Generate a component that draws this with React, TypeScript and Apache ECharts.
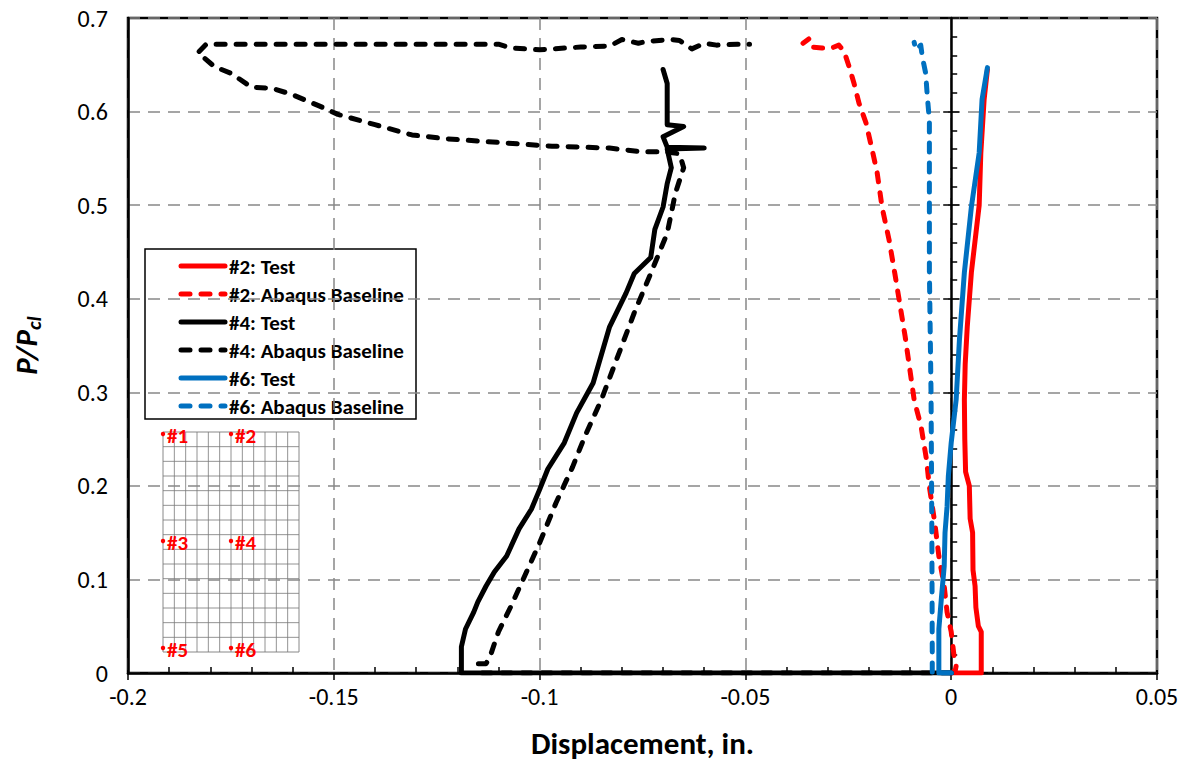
import React, { useEffect, useRef } from "react";
import * as echarts from "echarts";

// ---------- data (displacement in., P/Pcl) ----------
const test2: number[][] = [
  [0, 0], [0.0073, 0], [0.0073, 0.044], [0.0066, 0.05], [0.006, 0.07], [0.0058, 0.093],
  [0.0053, 0.11], [0.0052, 0.15], [0.0046, 0.165], [0.0044, 0.2], [0.0035, 0.215],
  [0.0033, 0.25], [0.0032, 0.292], [0.0034, 0.33], [0.0039, 0.37], [0.0049, 0.428],
  [0.0068, 0.5], [0.0072, 0.556], [0.008, 0.613], [0.0088, 0.645],
];
const abaqus2: number[][] = [
  [0, 0], [0.001, 0.003], [0.0012, 0.0075], [0.0007, 0.018], [0, 0.044], [-0.001, 0.065],
  [-0.0017, 0.093], [-0.003, 0.125], [-0.004, 0.161], [-0.0053, 0.199], [-0.006, 0.228],
  [-0.0073, 0.263], [-0.009, 0.292], [-0.0112, 0.36], [-0.0137, 0.427], [-0.0151, 0.463],
  [-0.0168, 0.498], [-0.018, 0.535], [-0.0192, 0.559], [-0.0207, 0.588], [-0.0224, 0.609],
  [-0.0236, 0.63], [-0.0248, 0.648], [-0.026, 0.664], [-0.0273, 0.671], [-0.029, 0.668],
  [-0.0314, 0.668], [-0.0338, 0.669], [-0.0345, 0.678], [-0.036, 0.673],
];
const test4: number[][] = [
  [0, 0], [-0.119, 0], [-0.119, 0.028], [-0.118, 0.047], [-0.116, 0.065], [-0.115, 0.076],
  [-0.113, 0.093], [-0.111, 0.108], [-0.108, 0.125], [-0.105, 0.154], [-0.102, 0.175],
  [-0.1, 0.196], [-0.098, 0.218], [-0.094, 0.246], [-0.091, 0.278], [-0.087, 0.31],
  [-0.083, 0.37], [-0.079, 0.406], [-0.077, 0.427], [-0.073, 0.444], [-0.072, 0.474],
  [-0.07, 0.498], [-0.069, 0.523], [-0.068, 0.54], [-0.069, 0.56], [-0.06, 0.561],
  [-0.069, 0.562], [-0.07, 0.573], [-0.065, 0.584], [-0.069, 0.586], [-0.069, 0.594],
  [-0.069, 0.63], [-0.07, 0.645],
];
const abaqus4: number[][] = [
  [0, 0], [-0.114, 0], [-0.115, 0.01], [-0.113, 0.01], [-0.112, 0.018], [-0.11, 0.044],
  [-0.107, 0.071], [-0.104, 0.1], [-0.1, 0.139], [-0.096, 0.182], [-0.092, 0.22],
  [-0.089, 0.253], [-0.085, 0.292], [-0.077, 0.385], [-0.073, 0.427], [-0.069, 0.47],
  [-0.067, 0.513], [-0.065, 0.54], [-0.066, 0.555], [-0.07, 0.557], [-0.075, 0.557],
  [-0.083, 0.561], [-0.097, 0.563], [-0.11, 0.567], [-0.123, 0.571], [-0.131, 0.575],
  [-0.14, 0.586], [-0.149, 0.597], [-0.153, 0.605], [-0.16, 0.618], [-0.165, 0.625],
  [-0.17, 0.626], [-0.175, 0.641], [-0.179, 0.648], [-0.183, 0.663], [-0.181, 0.672],
  [-0.17, 0.672], [-0.14, 0.672], [-0.11, 0.672], [-0.107, 0.668], [-0.1, 0.666],
  [-0.09, 0.669], [-0.083, 0.67], [-0.08, 0.677], [-0.076, 0.673], [-0.074, 0.675],
  [-0.068, 0.677], [-0.066, 0.676], [-0.063, 0.667], [-0.06, 0.673], [-0.057, 0.671],
  [-0.052, 0.672], [-0.049, 0.672],
];
const test6: number[][] = [
  [0, 0], [-0.003, 0], [-0.003, 0.047], [-0.0024, 0.079], [-0.0017, 0.114], [-0.0015, 0.15],
  [-0.001, 0.178], [-0.0007, 0.21], [0, 0.246], [0.0012, 0.292], [0.002, 0.356],
  [0.0032, 0.428], [0.0049, 0.498], [0.0068, 0.556], [0.0075, 0.613], [0.0088, 0.647],
];
const abaqus6: number[][] = [
  [0, 0], [-0.0046, 0], [-0.0046, 0.02], [-0.0047, 0.15], [-0.0049, 0.3], [-0.0053, 0.43],
  [-0.0053, 0.591], [-0.0058, 0.616], [-0.0062, 0.641], [-0.007, 0.658], [-0.0074, 0.671],
  [-0.0086, 0.666], [-0.009, 0.674],
];

const seriesNames = [
  "#2: Test", "#2: Abaqus Baseline", "#4: Test", "#4: Abaqus Baseline", "#6: Test", "#6: Abaqus Baseline",
];
const seriesColors = ["#FF0000", "#FF0000", "#000000", "#000000", "#0070C0", "#0070C0"];
const seriesDashed = [false, true, false, true, false, true];
const seriesData = [test2, abaqus2, test4, abaqus4, test6, abaqus6];

const insetLabels = ["#1", "#2", "#3", "#4", "#5", "#6"];

const xMin = -0.2, xMax = 0.05, xStep = 0.05;
const yMin = 0, yMax = 0.7, yStep = 0.1;

const FONT = "Carlito, Lato, 'Open Sans', sans-serif";
const DASH = [9, 11];

function fmt(v: number) {
  return String(parseFloat(v.toFixed(3)));
}

export default function App() {
  const ref = useRef<HTMLDivElement>(null);
  useEffect(() => {
    if (!ref.current) return;
    const chart = echarts.init(ref.current, undefined, { renderer: "svg" });

    // legend (drawn as graphic)
    const legendChildren: any[] = [
      { type: "rect", shape: { x: 0, y: 0, width: 271, height: 170 }, style: { fill: "#fff", stroke: "#000", lineWidth: 1.5 } },
    ];
    seriesNames.forEach((n, i) => {
      const y = 17 + 28 * i;
      legendChildren.push({
        type: "line",
        shape: { x1: 36, y1: y, x2: 80, y2: y },
        style: { stroke: seriesColors[i], lineWidth: 5, lineDash: seriesDashed[i] ? DASH : null, lineCap: "round" },
      });
      legendChildren.push({
        type: "text",
        x: 84, y: y + 1,
        style: { text: n, fill: "#000", font: `bold 21px ${FONT}`, verticalAlign: "middle", align: "left" },
      });
    });

    // inset grid
    const ix = 163, iy = 432, iw = 136, ih = 220;
    const insetChildren: any[] = [
      { type: "rect", shape: { x: 0, y: 0, width: iw, height: ih }, style: { fill: "#fff", stroke: "#888", lineWidth: 1 } },
    ];
    const nCols = 12, nRows = 15;
    for (let c = 1; c < nCols; c++) {
      const x = (iw * c) / nCols;
      insetChildren.push({ type: "line", shape: { x1: x, y1: 0, x2: x, y2: ih }, style: { stroke: "#777", lineWidth: 0.8 } });
    }
    for (let r = 1; r < nRows; r++) {
      const y = (ih * r) / nRows;
      insetChildren.push({ type: "line", shape: { x1: 0, y1: y, x2: iw, y2: y }, style: { stroke: "#777", lineWidth: 0.8 } });
    }
    const dotPos = [[0, 2], [68, 2], [0, 109], [68, 109], [0, 216], [68, 216]];
    dotPos.forEach((p, i) => {
      insetChildren.push({ type: "circle", shape: { cx: p[0], cy: p[1], r: 2.2 }, style: { fill: "#FF0000" } });
      insetChildren.push({
        type: "text", x: p[0] + 4, y: p[1] + 2,
        style: { text: insetLabels[i], fill: "#FF0000", font: `bold 21px ${FONT}`, verticalAlign: "middle" },
      });
    });

    const option: any = {
      animation: false,
      backgroundColor: "#fff",
      grid: { left: 128, right: 28, top: 18, bottom: 93, show: true, borderColor: "#000", borderWidth: 2.5, backgroundColor: "transparent" },
      xAxis: [
        {
          type: "value", min: xMin, max: xMax, interval: xStep,
          name: "Displacement, in.", nameLocation: "middle", nameGap: 54,
          nameTextStyle: { fontFamily: FONT, fontWeight: "bold", fontSize: 31, color: "#000" },
          axisLine: { onZero: false, lineStyle: { color: "#000", width: 2.5 } },
          axisTick: { show: true, inside: false, length: 7, lineStyle: { color: "#000", width: 1.5 } },
          axisLabel: { margin: 11, fontFamily: FONT, fontSize: 24, color: "#000", formatter: (v: number) => fmt(v) },
          splitLine: { show: true, lineStyle: { color: "#888", width: 1.5, type: [12, 8] } },
        },
        {
          type: "value", min: xMin, max: xMax, interval: xStep, position: "bottom",
          axisLine: { show: false, onZero: false },
          axisTick: { show: false, inside: true },
          minorTick: { show: true, splitNumber: 5, length: 6, lineStyle: { color: "#000", width: 1.5 } },
          axisLabel: { show: false },
          splitLine: { show: false },
        },
      ],
      yAxis: [
        {
          type: "value", min: yMin, max: yMax, interval: yStep,
          name: "{a|P/P}{s|cl}", nameLocation: "middle", nameGap: 84, nameRotate: 90,
          nameTextStyle: {
            rich: {
              a: { fontFamily: FONT, fontWeight: "bold", fontStyle: "italic", fontSize: 31, color: "#000", lineHeight: 36 },
              s: { fontFamily: FONT, fontWeight: "bold", fontStyle: "italic", fontSize: 21, color: "#000", verticalAlign: "bottom", lineHeight: 36, padding: [14, 0, 0, 0] },
            },
          },
          axisLine: { onZero: false, lineStyle: { color: "#000", width: 2.5 } },
          axisTick: { show: false },
          axisLabel: { margin: 20, fontFamily: FONT, fontSize: 24, color: "#000", formatter: (v: number) => fmt(v) },
          splitLine: { show: true, lineStyle: { color: "#888", width: 1.5, type: [12, 8] } },
        },
        {
          type: "value", min: yMin, max: yMax, interval: yStep, position: "left",
          axisLine: { show: true, onZero: true, onZeroAxisIndex: 0, lineStyle: { color: "#000", width: 2.5 } },
          axisTick: { show: true, inside: true, length: 8, lineStyle: { color: "#000", width: 1.5 } },
          minorTick: { show: true, splitNumber: 5, length: 6, lineStyle: { color: "#000", width: 1.5 } },
          axisLabel: { show: false },
          splitLine: { show: false },
        },
        {
          type: "value", min: yMin, max: yMax, interval: yStep, position: "right",
          axisLine: { show: false, onZero: true, onZeroAxisIndex: 0 },
          axisTick: { show: true, inside: true, length: 8, lineStyle: { color: "#000", width: 1.5 } },
          axisLabel: { show: false },
          splitLine: { show: false },
        },
      ],
      series: seriesData.map((d, i) => ({
        name: seriesNames[i],
        type: "line",
        data: d,
        xAxisIndex: 0,
        yAxisIndex: 0,
        showSymbol: false,
        symbol: "none",
        z: 3 + i,
        lineStyle: {
          color: seriesColors[i],
          width: 5,
          type: seriesDashed[i] ? DASH : "solid",
          cap: "round",
          join: "round",
        },
      })),
      graphic: [
        { type: "group", x: 145, y: 249, z: 100, children: legendChildren },
        { type: "group", x: ix, y: iy, z: 100, children: insetChildren },
      ],
    };
    chart.setOption(option);
    return () => chart.dispose();
  }, []);
  return <div ref={ref} style={{ position: "absolute", left: 0, top: 0, width: 1185, height: 766 }} />;
}
